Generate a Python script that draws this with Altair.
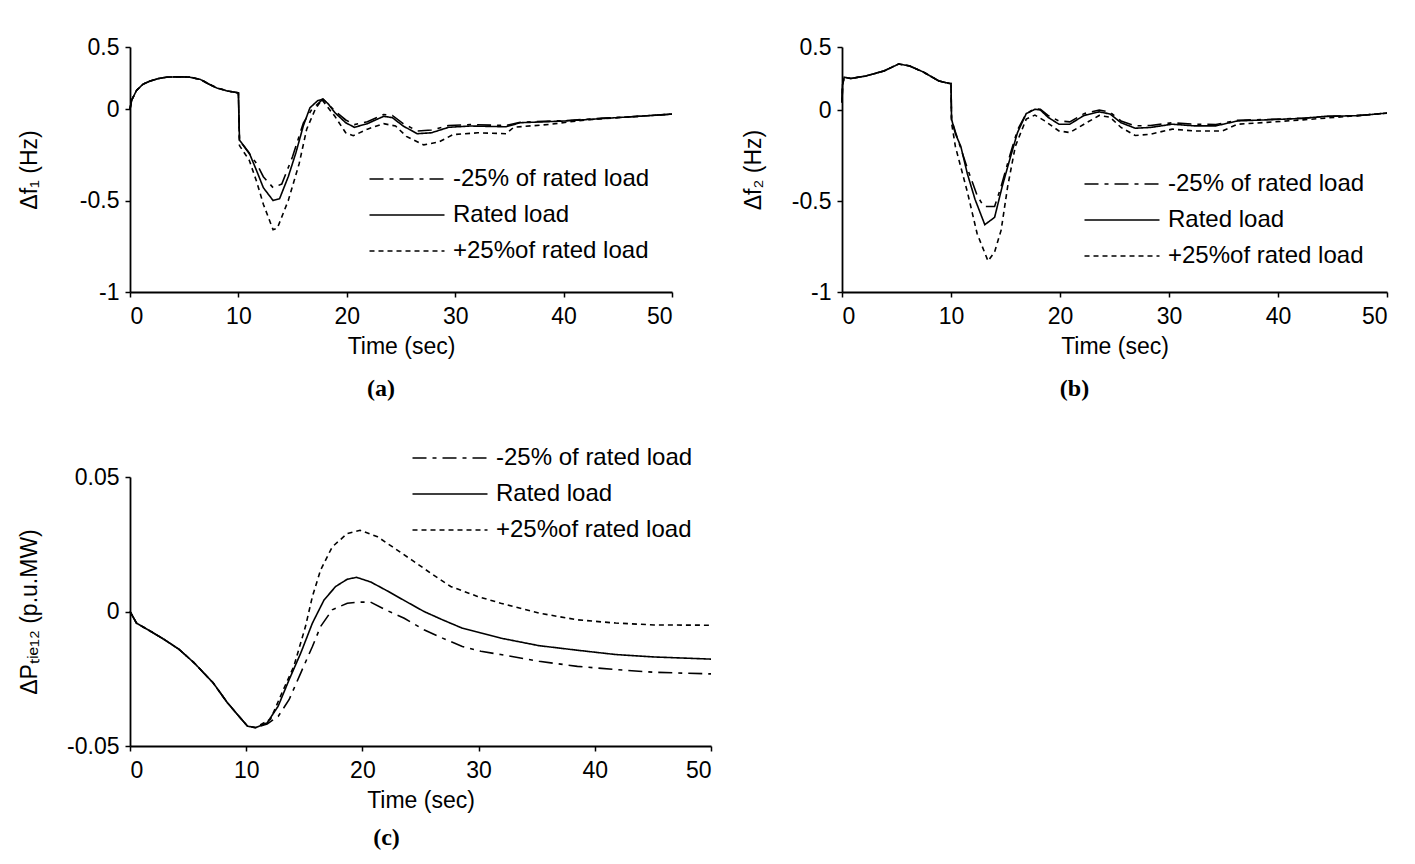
import altair as alt
import pandas as pd

SERIES = ["-25% of rated load", "Rated load", "+25%of rated load"]
DASHES = [[14, 6, 4, 6], [1, 0], [5, 4]]

# ---------------- panel (a): delta f1 ----------------
A_PRE_T = [0, 0.15, 0.6, 1.2, 1.85, 2.6, 3.4, 4.5, 5.5, 6.5, 7.3, 8.0, 9.0, 9.7, 10.0]
A_PRE_V = [0.0, 0.07, 0.15, 0.2, 0.225, 0.245, 0.257, 0.26, 0.257, 0.238, 0.2, 0.17, 0.145, 0.135, 0.13]

A_RATED_T = [10.1, 11.0, 11.7, 12.3, 13.2, 13.8, 14.6, 15.3, 16.0, 16.6, 17.3, 17.8, 18.3, 18.9, 19.9,
             20.7, 21.9, 23.4, 24.2, 25.2, 26.5, 27.8, 29.4, 31.4, 34.7, 36.0, 40.3, 43.6, 46.9, 50]
A_RATED_V = [-0.17, -0.24, -0.34, -0.43, -0.50, -0.49, -0.37, -0.24, -0.09, 0.01, 0.066, 0.08, 0.04, -0.02, -0.075,
             -0.10, -0.08, -0.04, -0.047, -0.093, -0.135, -0.13, -0.10, -0.093, -0.097, -0.075, -0.065, -0.052, -0.04, -0.028]

A_MINUS_T = [10.1, 11.7, 12.3, 13.2, 14.0, 15.0, 16.0, 16.8, 17.8, 18.9, 19.9, 20.7, 21.9, 23.4, 24.2,
             25.2, 26.5, 27.8, 29.4, 31.4, 34.7, 36.0, 40.3, 43.6, 46.9, 50]
A_MINUS_V = [-0.17, -0.30, -0.37, -0.43, -0.41, -0.26, -0.075, 0.0, 0.08, -0.01, -0.06, -0.085, -0.07, -0.03, -0.035,
             -0.08, -0.12, -0.115, -0.09, -0.085, -0.09, -0.072, -0.063, -0.05, -0.04, -0.028]

A_PLUS_T = [10.1, 11.0, 11.7, 12.3, 13.2, 13.6, 14.6, 15.6, 16.3, 17.1, 17.7, 18.9, 19.9, 20.6, 21.9,
            23.4, 24.5, 25.5, 27.1, 28.5, 29.8, 32.1, 34.7, 35.4, 38.7, 42.0, 46.9, 50]
A_PLUS_V = [-0.2, -0.28, -0.40, -0.52, -0.66, -0.65, -0.5, -0.3, -0.11, 0.0, 0.075, -0.04, -0.13, -0.146, -0.11,
            -0.08, -0.093, -0.15, -0.196, -0.18, -0.14, -0.13, -0.135, -0.10, -0.084, -0.06, -0.04, -0.028]

# ---------------- panel (b): delta f2 ----------------
B_PRE_T = [0, 0.05, 0.2, 0.8, 2.2, 3.85, 5.2, 6.2, 7.5, 8.9, 9.9, 10.0]
B_PRE_V = [0.06, 0.2, 0.26, 0.25, 0.27, 0.31, 0.365, 0.35, 0.30, 0.23, 0.21, 0.21]

B_RATED_T = [10.05, 10.4, 10.9, 11.5, 12.2, 13.1, 14.0, 14.7, 15.4, 16.1, 16.9, 17.7, 18.2, 18.9, 19.9, 20.9,
             22.2, 23.6, 24.6, 25.6, 26.9, 28.3, 30.3, 32.3, 34.3, 36.3, 39.0, 42.3, 44.3, 47.3, 50]
B_RATED_V = [-0.05, -0.13, -0.2, -0.35, -0.49, -0.63, -0.59, -0.42, -0.27, -0.124, -0.02, 0.006, 0.0, -0.04, -0.078, -0.078,
             -0.03, -0.01, -0.022, -0.07, -0.10, -0.096, -0.078, -0.087, -0.087, -0.06, -0.054, -0.046, -0.035, -0.031, -0.017]

B_MINUS_T = [10.05, 10.4, 11.5, 12.4, 13.0, 14.0, 14.6, 15.4, 16.1, 16.9, 17.7, 18.2, 18.9, 19.9, 20.9,
             22.2, 23.6, 24.6, 25.6, 26.9, 28.3, 30.3, 32.3, 34.3, 36.3, 39.0, 42.3, 44.3, 47.3, 50]
B_MINUS_V = [-0.05, -0.12, -0.32, -0.47, -0.53, -0.53, -0.42, -0.25, -0.11, -0.02, 0.01, 0.005, -0.03, -0.06, -0.065,
             -0.02, 0.0, -0.012, -0.06, -0.087, -0.085, -0.07, -0.078, -0.08, -0.056, -0.052, -0.045, -0.035, -0.031, -0.017]

B_PLUS_T = [10.05, 10.4, 11.5, 12.4, 13.4, 14.0, 14.6, 15.2, 15.9, 16.9, 17.7, 18.6, 19.9, 20.9, 22.2,
            23.6, 24.6, 25.6, 26.9, 28.3, 30.3, 32.3, 34.9, 36.3, 39.0, 42.3, 47.3, 50]
B_PLUS_V = [-0.07, -0.2, -0.45, -0.68, -0.83, -0.78, -0.66, -0.42, -0.2, -0.05, -0.028, -0.06, -0.115, -0.124, -0.078,
            -0.03, -0.04, -0.096, -0.14, -0.133, -0.105, -0.115, -0.115, -0.078, -0.068, -0.054, -0.031, -0.017]

# ---------------- panel (c): delta P tie12 ----------------
C_PRE_T = [0, 0.56, 1.55, 2.87, 4.2, 5.5, 7.15, 8.4, 10.1, 10.8]
C_PRE_V = [0.0, -0.0043, -0.0068, -0.0102, -0.014, -0.019, -0.0265, -0.034, -0.0426, -0.0432]

C_RATED_T = [11.8, 12.75, 13.7, 14.7, 15.7, 16.7, 17.7, 18.7, 19.5, 20.7, 22.0, 23.6, 25.3, 26.9,
             28.6, 30.2, 31.9, 35.2, 38.5, 41.8, 45.1, 50]
C_RATED_V = [-0.0414, -0.0352, -0.0253, -0.0154, -0.0043, 0.0043, 0.0093, 0.012, 0.0127, 0.011, 0.008, 0.0041, 0.0, -0.0031,
             -0.0062, -0.008, -0.0099, -0.0127, -0.0144, -0.016, -0.0169, -0.0177]

C_MINUS_T = [11.8, 12.75, 13.7, 14.7, 15.7, 16.4, 17.4, 18.7, 19.7, 20.7, 22.0, 23.6, 25.3, 26.9,
             28.6, 30.2, 31.9, 35.2, 38.5, 41.8, 45.1, 50]
C_MINUS_V = [-0.0418, -0.039, -0.0327, -0.0228, -0.013, -0.0056, 0.0006, 0.0031, 0.0035, 0.0035, 0.0006, -0.0025, -0.0068, -0.0099,
             -0.013, -0.0148, -0.016, -0.0185, -0.0204, -0.0216, -0.0226, -0.0232]

C_PLUS_T = [12.1, 13.1, 14.1, 15.1, 15.7, 16.4, 17.4, 18.7, 19.8, 21.3, 22.6, 24.3, 25.9, 27.6,
            29.9, 31.9, 35.2, 38.5, 41.8, 45.1, 50]
C_PLUS_V = [-0.040, -0.030, -0.0204, -0.0056, 0.0056, 0.0154, 0.024, 0.029, 0.0302, 0.0278, 0.024, 0.019, 0.0142, 0.0093,
            0.0056, 0.0031, -0.0006, -0.0031, -0.0043, -0.005, -0.0051]


def build(pre_t, pre_v, curves):
    rows = []
    for name, (ts, vs) in zip(SERIES, curves):
        for t, v in zip(pre_t + ts, pre_v + vs):
            rows.append({"t": t, "v": v, "series": name})
    return pd.DataFrame(rows)


df_a = build(A_PRE_T, A_PRE_V, [(A_MINUS_T, A_MINUS_V), (A_RATED_T, A_RATED_V), (A_PLUS_T, A_PLUS_V)])
df_b = build(B_PRE_T, B_PRE_V, [(B_MINUS_T, B_MINUS_V), (B_RATED_T, B_RATED_V), (B_PLUS_T, B_PLUS_V)])
df_c = build(C_PRE_T, C_PRE_V, [(C_MINUS_T, C_MINUS_V), (C_RATED_T, C_RATED_V), (C_PLUS_T, C_PLUS_V)])

FONT = "Liberation Sans"
# legend line: custom path, 15 px symbol box stretched to a 75 px line
LINE_SYMBOL = "M-1,0H9"


def panel(df, yscale, yvalues, ytitle, caption, w, h, lx, ly, tpad, cap_dx, cap_off):
    return alt.Chart(df).mark_line(color="black", strokeWidth=1.6, interpolate="linear").encode(
        x=alt.X("t:Q", scale=alt.Scale(domain=[0, 50], nice=False, zero=False),
                axis=alt.Axis(values=[0, 10, 20, 30, 40, 50], title="Time (sec)", grid=False,
                              labelPadding=8, titlePadding=7)),
        y=alt.Y("v:Q", scale=yscale,
                axis=alt.Axis(values=yvalues, title=ytitle, grid=False, labelPadding=6,
                              titlePadding=tpad, labelExpr="toString(datum.value)")),
        strokeDash=alt.StrokeDash("series:N",
                                  scale=alt.Scale(domain=SERIES, range=DASHES),
                                  sort=SERIES,
                                  legend=alt.Legend(title=None, orient="none", legendX=lx, legendY=ly,
                                                    symbolType=LINE_SYMBOL, symbolSize=225,
                                                    symbolStrokeWidth=1.6, symbolStrokeColor="black",
                                                    labelFont=FONT, labelFontSize=24, labelColor="black",
                                                    labelOffset=64, rowPadding=12, labelLimit=400)),
        detail="series:N",
    ).properties(
        width=w, height=h,
        title=alt.TitleParams(text=caption, orient="bottom", font="Liberation Serif", fontWeight="bold",
                              fontSize=24, color="black", offset=cap_off, dx=cap_dx, anchor="middle"),
    )


pa = panel(df_a, alt.Scale(domain=[-1, 0, 0.5], range=[245, 62, 0]), [-1, -0.5, 0, 0.5],
           "Δf₁ (Hz)", "(a)", 542, 245, 235, 120, 38, -20, 19)
pb = panel(df_b, alt.Scale(domain=[-1, 0, 0.5], range=[245, 63, 0]), [-1, -0.5, 0, 0.5],
           "Δf₂ (Hz)", "(b)", 545, 245, 238, 125, 26, -40, 19)
pc = panel(df_c, alt.Scale(domain=[-0.05, 0.05], nice=False), [-0.05, 0, 0.05],
           "ΔPₜᵢₑ₁₂ (p.u.MW)", "(c)", 581, 269, 278, -31, 25, -34, 14)

chart = alt.concat(pa, pb, pc, columns=2, spacing={"row": 185, "column": 131}).resolve_scale(
    strokeDash="independent"
).resolve_legend(
    strokeDash="independent"
).properties(
    bounds="flush",
    background="white",
    padding={"left": 18, "top": 36, "right": 5, "bottom": 5},
).configure_view(stroke=None).configure_axis(
    domainColor="black", domainWidth=1.8, tickColor="black", tickWidth=1.5, tickSize=5,
    labelFont=FONT, labelFontSize=23, labelColor="black",
    titleFont=FONT, titleFontSize=23, titleFontWeight="normal", titleColor="black",
)

chart.save("out.html", embed_options={"renderer": "svg", "actions": False})
